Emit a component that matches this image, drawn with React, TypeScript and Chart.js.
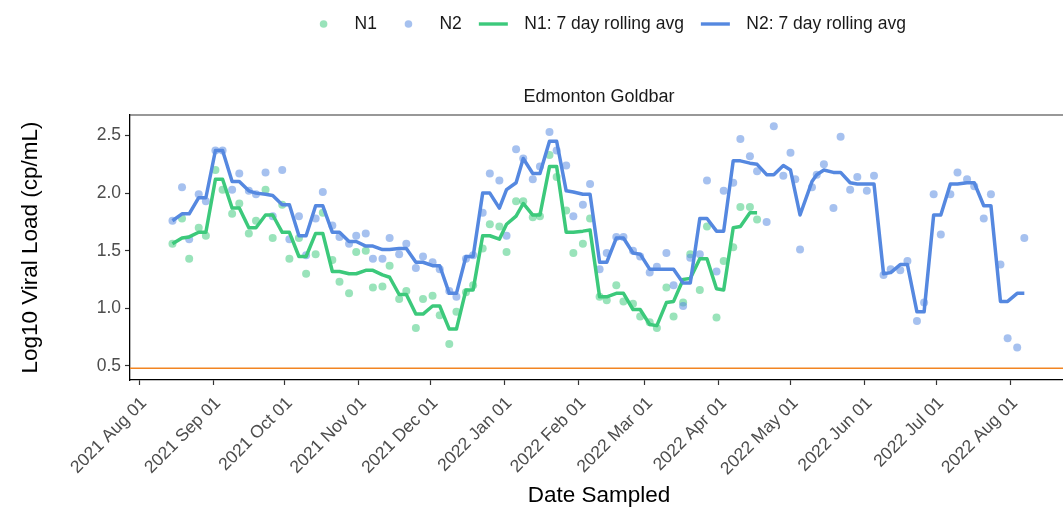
import React, { useEffect, useRef } from "react";
import { Chart, registerables } from "chart.js";

Chart.register(...registerables);

// ---------------- data ----------------
const sampleDates: string[] = [
  "2021-08-15", "2021-08-19", "2021-08-22", "2021-08-26", "2021-08-29",
  "2021-09-02", "2021-09-05", "2021-09-09", "2021-09-12", "2021-09-16", "2021-09-19", "2021-09-23", "2021-09-26", "2021-09-30",
  "2021-10-03", "2021-10-07", "2021-10-10", "2021-10-14", "2021-10-17", "2021-10-21", "2021-10-24", "2021-10-28", "2021-10-31",
  "2021-11-04", "2021-11-07", "2021-11-11", "2021-11-14", "2021-11-18", "2021-11-21", "2021-11-25", "2021-11-28",
  "2021-12-02", "2021-12-05", "2021-12-09", "2021-12-12", "2021-12-16", "2021-12-19", "2021-12-23", "2021-12-26", "2021-12-30",
  "2022-01-02", "2022-01-06", "2022-01-09", "2022-01-13", "2022-01-16", "2022-01-20", "2022-01-23", "2022-01-27", "2022-01-30",
  "2022-02-03", "2022-02-06", "2022-02-10", "2022-02-13", "2022-02-17", "2022-02-20", "2022-02-24", "2022-02-27",
  "2022-03-03", "2022-03-06", "2022-03-10", "2022-03-13", "2022-03-17", "2022-03-20", "2022-03-24", "2022-03-27", "2022-03-31",
  "2022-04-03", "2022-04-07", "2022-04-10", "2022-04-14", "2022-04-17", "2022-04-21", "2022-04-24", "2022-04-28",
  "2022-05-01", "2022-05-03", "2022-05-05", "2022-05-10", "2022-05-12", "2022-05-15", "2022-05-19", "2022-05-22", "2022-05-26", "2022-05-29",
  "2022-06-02", "2022-06-05", "2022-06-09", "2022-06-12", "2022-06-16", "2022-06-19", "2022-06-23", "2022-06-26", "2022-06-30",
  "2022-07-03", "2022-07-07", "2022-07-10", "2022-07-14", "2022-07-17", "2022-07-21", "2022-07-24", "2022-07-28", "2022-07-31",
  "2022-08-04", "2022-08-07",
];

const n1Values: (number | null)[] = [
  1.56, 1.78, 1.43, 1.70, 1.63,
  2.20, 2.03, 1.82, 1.91, 1.65, 1.76, 2.03, 1.61, 1.90,
  1.43, 1.61, 1.30, 1.47, 1.83, 1.42, 1.23, 1.13, 1.49,
  1.50, 1.18, 1.19, 1.37, 1.08, 1.15, 0.83, 1.08,
  1.11, 0.94, 0.69, 0.97, 1.14, 1.20, 1.52, 1.73, 1.71,
  1.49, 1.93, 1.93, 1.79, 1.80, 2.33, 2.14, 1.85, 1.48,
  1.56, 1.78, 1.10, 1.07, 1.20, 1.06, 1.04, 0.93,
  0.88, 0.83, 1.18, 0.93, 1.05, 1.47, 1.16, 1.71, 0.92,
  1.41, 1.53, 1.88, 1.88, 1.77, null, null, null,
  null, null, null, null, null, null, null, null, null, null,
  null, null, null, null, null, null, null, null, null,
  null, null, null, null, null, null, null, null, null,
  null, null,
];

const n2Values: (number | null)[] = [
  1.76, 2.05, 1.60, 1.99, 1.93,
  2.37, 2.37, 2.03, 2.17, 2.02, 1.99, 2.18, 1.80, 2.20,
  1.60, 1.80, 1.46, 1.78, 2.01, 1.72, 1.62, 1.56, 1.63,
  1.65, 1.43, 1.43, 1.61, 1.47, 1.56, 1.35, 1.45,
  1.40, 1.34, 1.15, 1.10, 1.43, 1.46, 1.83, 2.17, 2.11,
  1.63, 2.38, 2.30, 2.12, 2.23, 2.53, 2.37, 2.24, 1.80,
  1.90, 2.08, 1.34, 1.48, 1.62, 1.62, 1.50, 1.45,
  1.31, 1.36, 1.48, 1.20, 1.02, 1.44, 1.47, 2.11, 1.32,
  2.02, 2.09, 2.47, 2.32, 2.19, 1.75, 2.58, 2.15,
  2.35, 2.12, 1.51, 2.05, 2.16, 2.25, 1.87, 2.49, 2.03, 2.14,
  2.02, 2.15, 1.29, 1.34, 1.33, 1.41, 0.89, 1.05, 1.99,
  1.64, 1.99, 2.18, 2.12, 2.06, 1.78, 1.99, 1.38, 0.74,
  0.66, 1.61,
];

const n1Rolling: (number | null)[] = [
  1.56, 1.61, 1.62, 1.66, 1.66,
  2.12, 2.12, 1.87, 1.87, 1.70, 1.70, 1.81, 1.81, 1.66,
  1.66, 1.45, 1.45, 1.65, 1.65, 1.32, 1.32, 1.30, 1.30,
  1.33, 1.33, 1.29, 1.27, 1.12, 1.12, 0.95, 0.95,
  1.02, 1.02, 0.82, 0.82, 1.16, 1.16, 1.63, 1.63, 1.60,
  1.73, 1.80, 1.91, 1.81, 1.81, 2.23, 2.23, 1.66, 1.66,
  1.67, 1.68, 1.10, 1.10, 1.13, 1.13, 0.99, 0.99,
  0.86, 0.85, 1.05, 1.06, 1.25, 1.26, 1.43, 1.43, 1.17,
  1.16, 1.70, 1.71, 1.83, 1.83, null, null, null,
  null, null, null, null, null, null, null, null, null, null,
  null, null, null, null, null, null, null, null, null,
  null, null, null, null, null, null, null, null, null,
  null, null,
];

const n2Rolling: (number | null)[] = [
  1.76, 1.82, 1.82, 1.96, 1.96,
  2.37, 2.37, 2.10, 2.10, 2.02, 2.00, 1.99, 1.98, 1.90,
  1.90, 1.63, 1.63, 1.89, 1.89, 1.66, 1.66, 1.58, 1.58,
  1.54, 1.54, 1.51, 1.51, 1.52, 1.52, 1.40, 1.40,
  1.37, 1.37, 1.13, 1.13, 1.45, 1.45, 2.00, 2.00, 1.87,
  2.03, 2.09, 2.30, 2.17, 2.17, 2.45, 2.45, 2.02, 2.01,
  1.99, 1.99, 1.40, 1.40, 1.61, 1.61, 1.48, 1.47,
  1.34, 1.34, 1.34, 1.34, 1.22, 1.22, 1.78, 1.78, 1.67,
  1.67, 2.28, 2.28, 2.26, 2.25, 2.16, 2.16, 2.24,
  2.20, null, 1.81, 2.10, 2.16, 2.20, 2.18, 2.18, 2.09, 2.08,
  2.08, 2.08, 1.30, 1.31, 1.38, 1.38, 0.97, 0.97, 1.81,
  1.81, 2.08, 2.08, 2.09, 2.09, 1.89, 1.89, 1.06, 1.06,
  1.13, 1.13,
];

const monthTickDates: string[] = [
  "2021-08-01", "2021-09-01", "2021-10-01", "2021-11-01", "2021-12-01", "2022-01-01", "2022-02-01",
  "2022-03-01", "2022-04-01", "2022-05-01", "2022-06-01", "2022-07-01", "2022-08-01",
];
const monthTickLabels: string[] = [
  "2021 Aug 01", "2021 Sep 01", "2021 Oct 01", "2021 Nov 01", "2021 Dec 01", "2022 Jan 01", "2022 Feb 01",
  "2022 Mar 01", "2022 Apr 01", "2022 May 01", "2022 Jun 01", "2022 Jul 01", "2022 Aug 01",
];
const yTickValues: number[] = [0.5, 1.0, 1.5, 2.0, 2.5];
const detectionLimit = 0.48;

const panelTitle = "Edmonton Goldbar";
const xAxisTitle = "Date Sampled";
const yAxisTitle = "Log10 Viral Load (cp/mL)";
const legendLabels: string[] = ["N1", "N2", "N1: 7 day rolling avg", "N2: 7 day rolling avg"];
const legendKinds: string[] = ["point", "point", "line", "line"];

// ---------------- styling ----------------
const FONT = "'Liberation Sans', Arial, sans-serif";
const GREEN = "rgb(60,201,123)";
const BLUE = "rgb(85,136,224)";
const GREEN_PT = "rgba(60,201,123,0.52)";
const BLUE_PT = "rgba(85,136,224,0.52)";
const ORANGE = "#F28522";
const legendColors: string[] = [GREEN_PT, BLUE_PT, GREEN, BLUE];

// The plotting panel runs a little past the right edge of the 1063px picture,
// so the canvas is drawn wider and clipped by its wrapper.
const VIEW_W = 1063;
const VIEW_H = 514;
const CANVAS_W = 1072;

const ORIGIN = Date.UTC(2021, 7, 1);
const dayOf = (s: string) => (Date.parse(s + "T00:00:00Z") - ORIGIN) / 86400000;
const X_MIN = -3.8;
const X_MAX = 389.3;

const toPoints = (vals: (number | null)[]) =>
  sampleDates
    .map((d, i) => ({ x: dayOf(d), y: vals[i] }))
    .filter((p) => p.y !== null && p.y !== undefined);

const ggLegendPlugin = {
  id: "ggLegend",
  afterDraw(chart: any) {
    const { ctx, chartArea } = chart;
    ctx.save();
    // panel top border
    ctx.strokeStyle = "#333333";
    ctx.lineWidth = 1.2;
    ctx.beginPath();
    ctx.moveTo(chartArea.left, chartArea.top);
    ctx.lineTo(chartArea.right, chartArea.top);
    ctx.stroke();

    // panel (facet) title
    ctx.font = `18px ${FONT}`;
    ctx.fillStyle = "#1A1A1A";
    ctx.textAlign = "center";
    ctx.textBaseline = "middle";
    ctx.fillText(panelTitle, (chartArea.left + chartArea.right) / 2, 97);

    // legend
    ctx.font = `17.5px ${FONT}`;
    const keyW = 29;
    const gapKT = 16.5;
    const gapTK = 17;
    const widths = legendLabels.map((l) => ctx.measureText(l).width);
    const total =
      widths.reduce((a, w) => a + keyW + gapKT + w, 0) + gapTK * (legendLabels.length - 1);
    let x = 607.5 - total / 2;
    const y = 24;
    legendLabels.forEach((label, i) => {
      if (legendKinds[i] === "point") {
        ctx.fillStyle = legendColors[i];
        ctx.beginPath();
        ctx.arc(x + keyW / 2, y, 3.8, 0, Math.PI * 2);
        ctx.fill();
      } else {
        ctx.strokeStyle = legendColors[i];
        ctx.lineWidth = 3.4;
        ctx.beginPath();
        ctx.moveTo(x, y);
        ctx.lineTo(x + keyW, y);
        ctx.stroke();
      }
      ctx.fillStyle = "#1A1A1A";
      ctx.textAlign = "left";
      ctx.textBaseline = "middle";
      ctx.fillText(label, x + keyW + gapKT, y);
      x += keyW + gapKT + widths[i] + gapTK;
    });
    ctx.restore();
  },
};

export default function App() {
  const canvasRef = useRef<HTMLCanvasElement | null>(null);

  useEffect(() => {
    document.body.style.margin = "0";
    document.body.style.overflow = "hidden";
    const canvas = canvasRef.current;
    if (!canvas) return;

    const chart = new Chart(canvas, {
      type: "line",
      data: {
        datasets: [
          {
            label: "N2: 7 day rolling avg",
            data: toPoints(n2Rolling),
            borderColor: BLUE,
            borderWidth: 3.5,
            pointRadius: 0,
            tension: 0,
            borderJoinStyle: "round",
            order: 0,
          },
          {
            label: "N1: 7 day rolling avg",
            data: toPoints(n1Rolling),
            borderColor: GREEN,
            borderWidth: 3.5,
            pointRadius: 0,
            tension: 0,
            borderJoinStyle: "round",
            order: 1,
          },
          {
            label: "N2",
            data: toPoints(n2Values),
            showLine: false,
            pointRadius: 4,
            pointBorderWidth: 0,
            pointBackgroundColor: BLUE_PT,
            borderColor: BLUE_PT,
            order: 2,
          },
          {
            label: "N1",
            data: toPoints(n1Values),
            showLine: false,
            pointRadius: 4,
            pointBorderWidth: 0,
            pointBackgroundColor: GREEN_PT,
            borderColor: GREEN_PT,
            order: 3,
          },
          {
            label: "Detection limit",
            data: [
              { x: X_MIN, y: detectionLimit },
              { x: X_MAX, y: detectionLimit },
            ],
            borderColor: ORANGE,
            borderWidth: 1.6,
            pointRadius: 0,
            order: 4,
          },
        ],
      },
      options: {
        responsive: false,
        animation: false,
        events: [],
        layout: { padding: { top: 115, right: 0, bottom: 0, left: 0 } },
        plugins: {
          legend: { display: false },
          tooltip: { enabled: false },
          title: { display: false },
        },
        scales: {
          x: {
            type: "linear",
            min: X_MIN,
            max: X_MAX,
            afterFit: (s: any) => {
              s.height = 134;
            },
            afterBuildTicks: (s: any) => {
              s.ticks = monthTickDates.map((d) => ({ value: dayOf(d) }));
            },
            ticks: {
              autoSkip: false,
              maxRotation: 45,
              minRotation: 45,
              padding: 8,
              labelOffset: 5,
              color: "#4D4D4D",
              font: { family: FONT, size: 17.5 },
              callback: (_v: any, i: number) => monthTickLabels[i],
            },
            grid: {
              display: true,
              drawOnChartArea: false,
              drawTicks: true,
              tickLength: 5,
              tickColor: "#333333",
              tickWidth: 1.2,
            },
            border: { display: true, color: "#000000", width: 1.3 },
            title: {
              display: true,
              text: xAxisTitle,
              color: "#000000",
              font: { family: FONT, size: 22.5 },
              padding: { top: 0, bottom: 5 },
            },
          },
          y: {
            type: "linear",
            min: 0.378,
            max: 2.678,
            afterFit: (s: any) => {
              s.width = 130;
            },
            afterBuildTicks: (s: any) => {
              s.ticks = yTickValues.map((v) => ({ value: v }));
            },
            ticks: {
              padding: 4,
              color: "#4D4D4D",
              font: { family: FONT, size: 17.5 },
              callback: (v: any) => Number(v).toFixed(1),
            },
            grid: {
              display: true,
              drawOnChartArea: false,
              drawTicks: true,
              tickLength: 5,
              tickColor: "#333333",
              tickWidth: 1.2,
            },
            border: { display: true, color: "#000000", width: 1.3 },
            title: {
              display: true,
              text: yAxisTitle,
              color: "#000000",
              font: { family: FONT, size: 22.5 },
              padding: { top: 17.5, bottom: 0 },
            },
          },
        },
      },
      plugins: [ggLegendPlugin],
    } as any);

    return () => {
      chart.destroy();
    };
  }, []);

  return (
    <div style={{ width: `${VIEW_W}px`, height: `${VIEW_H}px`, overflow: "hidden" }}>
      <canvas
        ref={canvasRef}
        width={CANVAS_W}
        height={VIEW_H}
        style={{ display: "block", width: `${CANVAS_W}px`, height: `${VIEW_H}px` }}
      />
    </div>
  );
}
